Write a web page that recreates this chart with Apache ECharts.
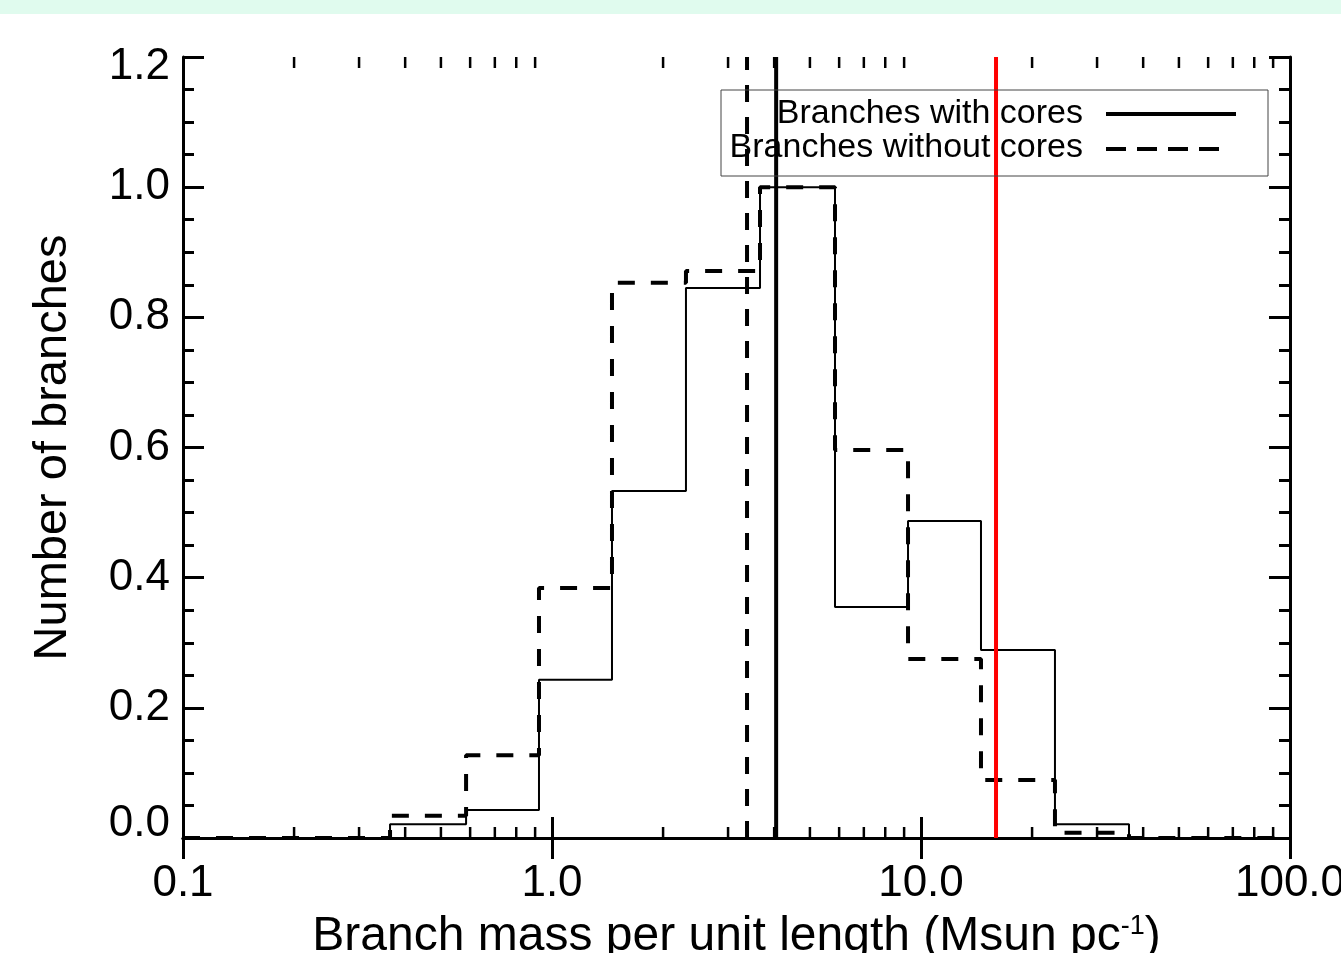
<!DOCTYPE html>
<html><head><meta charset="utf-8">
<script src="https://cdn.jsdelivr.net/npm/echarts@6/dist/echarts.min.js"></script>
<style>html,body{margin:0;padding:0;background:#fff;overflow:hidden}#c{width:1341px;height:953px}</style>
</head><body><div id="c"></div>
<script>
// ---- data ----
const binEdges = [0.364, 0.585, 0.922, 1.454, 2.307, 3.662, 5.847, 9.222, 14.54, 23.07, 36.62];
const withCores = [0.021, 0.043, 0.243, 0.533, 0.845, 1.0, 0.355, 0.487, 0.289, 0.021];
const withoutCores = [0.034, 0.127, 0.384, 0.853, 0.871, 1.0, 0.596, 0.275, 0.089, 0.008];
const medianWithout = 3.377;
const medianWith = 4.05;
const redLineValue = 15.97;
const seriesNames = ['Branches with cores', 'Branches without cores'];
const xTickLabels = ['0.1', '1.0', '10.0', '100.0'];
const yTickLabels = ['0.0', '0.2', '0.4', '0.6', '0.8', '1.0', '1.2'];
const xMinorTicks = [0.2,0.3,0.4,0.5,0.6,0.7,0.8,0.9, 2,3,4,5,6,7,8,9, 20,30,40,50,60,70,80,90];
const xMin = 0.1, xMax = 100, yMin = 0, yMax = 1.2, yStep = 0.2;
const xName = 'Branch mass per unit length (Msun pc{sup|-1})';
const yName = 'Number of branches';

const FONT = '"Liberation Sans", Arial, Helvetica, sans-serif';

function histPoints(edges, vals) {
  const pts = [[xMin, 0]];
  for (let i = 0; i < vals.length; i++) pts.push([edges[i], vals[i]]);
  pts.push([edges[edges.length - 1], 0]);
  pts.push([xMax, 0]);
  return pts;
}

const axisLineStyle = { color: '#000', width: 3 };
function xAxisCfg(pos, showLabel) {
  return {
    type: 'log', logBase: 10, min: xMin, max: xMax, position: pos,
    axisLine: { show: true, lineStyle: axisLineStyle },
    axisTick: { show: true, inside: true, length: 21, lineStyle: { color: '#000', width: 3 } },
    axisLabel: {
      show: showLabel, margin: 24, fontSize: 44, color: '#000', fontFamily: FONT,
      formatter: v => xTickLabels[Math.round(Math.log10(v)) + 1]
    },
    splitLine: { show: false }
  };
}
function yAxisCfg(pos, showLabel) {
  return {
    type: 'value', min: yMin, max: yMax, interval: yStep, position: pos,
    axisLine: { show: true, lineStyle: axisLineStyle },
    axisTick: { show: true, inside: true, length: 21, lineStyle: { color: '#000', width: 3 } },
    minorTick: { show: true, splitNumber: 4, length: 11, lineStyle: { color: '#000', width: 3 } },
    axisLabel: {
      show: showLabel, margin: 13, color: '#000', fontSize: 44, fontFamily: FONT,
      formatter: v => {
        const i = Math.round(v / yStep);
        if (i === 0) return '{lo|' + yTickLabels[i] + '}';
        if (i === yTickLabels.length - 1) return '{hi|' + yTickLabels[i] + '}';
        return yTickLabels[i];
      },
      rich: {
        lo: { fontSize: 44, fontFamily: FONT, color: '#000', padding: [0, 0, 28, 0] },
        hi: { fontSize: 44, fontFamily: FONT, color: '#000', padding: [20, 0, 0, 0] }
      }
    },
    splitLine: { show: false }, minorSplitLine: { show: false }
  };
}

const xA = xAxisCfg('bottom', true);
xA.name = xName; xA.nameLocation = 'middle'; xA.nameGap = 75;
xA.nameTextStyle = { fontSize: 48, color: '#000', fontFamily: FONT,
  rich: { sup: { fontSize: 27, color: '#000', fontFamily: FONT, verticalAlign: 'top' } } };
const yA = yAxisCfg('left', true);
yA.name = yName; yA.nameLocation = 'middle'; yA.nameGap = 106;
yA.nameTextStyle = { fontSize: 47, color: '#000', fontFamily: FONT };

const chart = echarts.init(document.getElementById('c'), null, { renderer: 'canvas' });
chart.setOption({
  animation: false,
  backgroundColor: '#fff',
  grid: { left: 183, right: 51, top: 57, bottom: 115, containLabel: false, outerBoundsMode: 'none' },
  xAxis: [xA, xAxisCfg('top', false)],
  yAxis: [yA, yAxisCfg('right', false)],
  series: [
    { name: seriesNames[0], type: 'line', step: 'end', symbol: 'none', data: histPoints(binEdges, withCores),
      lineStyle: { color: '#000', width: 2 }, z: 3 },
    { name: seriesNames[1], type: 'line', step: 'end', symbol: 'none', data: histPoints(binEdges, withoutCores),
      lineStyle: { color: '#000', width: 4, type: [17, 16] }, z: 4 },
    { type: 'line', symbol: 'none', data: [[medianWithout, yMin], [medianWithout, yMax]],
      lineStyle: { color: '#000', width: 4, type: [17, 15] }, z: 5 },
    { type: 'line', symbol: 'none', data: [[medianWith, yMin], [medianWith, yMax]],
      lineStyle: { color: '#000', width: 4 }, z: 5 },
    { type: 'line', symbol: 'none', data: [[redLineValue, yMin], [redLineValue, yMax]],
      lineStyle: { color: '#ff0000', width: 4 }, z: 6 },
    { type: 'custom', silent: true, clip: false, z: 7,
      data: xMinorTicks.map(v => [v, yMin]), encode: { x: 0, y: 1 },
      renderItem: (params, api) => {
        const v = api.value(0);
        const b = api.coord([v, yMin]);
        const t = api.coord([v, yMax]);
        return { type: 'group', children: [
          { type: 'line', shape: { x1: b[0], y1: b[1], x2: b[0], y2: b[1] - 11 }, style: { stroke: '#000', lineWidth: 2.5 } },
          { type: 'line', shape: { x1: t[0], y1: t[1], x2: t[0], y2: t[1] + 11 }, style: { stroke: '#000', lineWidth: 2.5 } }
        ] };
      } }
  ],
  graphic: [
    { type: 'rect', left: 0, top: 0, shape: { width: 1341, height: 14 }, style: { fill: '#e0fbee' }, z: 0 },
    { type: 'rect', x: 721, y: 90, shape: { width: 547, height: 86 }, style: { fill: 'none', stroke: '#444', lineWidth: 1 }, z: 10 },
    { type: 'text', x: 1083, y: 114, style: { text: seriesNames[0], fontSize: 34, fontFamily: FONT, fill: '#000', align: 'right', verticalAlign: 'middle' }, z: 10 },
    { type: 'text', x: 1083, y: 148, style: { text: seriesNames[1], fontSize: 34, fontFamily: FONT, fill: '#000', align: 'right', verticalAlign: 'middle' }, z: 10 },
    { type: 'line', shape: { x1: 1106, y1: 114, x2: 1236, y2: 114 }, style: { stroke: '#000', lineWidth: 4 }, z: 10 },
    { type: 'line', shape: { x1: 1106, y1: 149, x2: 1219, y2: 149 }, style: { stroke: '#000', lineWidth: 4, lineDash: [20, 11] }, z: 10 }
  ]
});
</script></body></html>
